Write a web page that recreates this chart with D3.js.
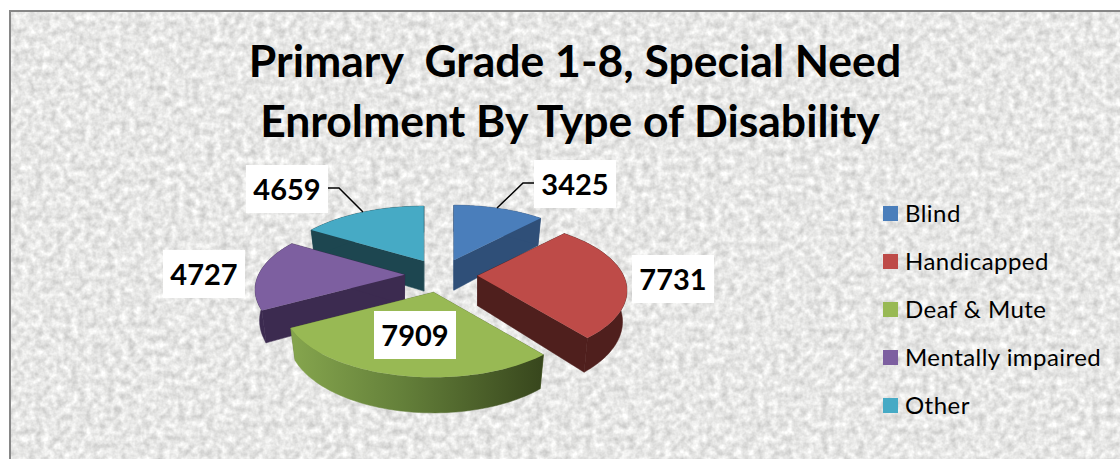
<!DOCTYPE html>
<html>
<head>
<meta charset="utf-8">
<script src="https://d3js.org/d3.v7.min.js"></script>
<style>
html, body { margin: 0; padding: 0; background: #fff; overflow: hidden; }
text { font-family: Lato, sans-serif; fill: #000; }
</style>
</head>
<body>
<div id="plot"></div>
<script>
const categories = ["Blind", "Handicapped", "Deaf & Mute", "Mentally impaired", "Other"];
const enrolment = [3425, 7731, 7909, 4727, 4659];
const titleLines = ["Primary  Grade 1-8, Special Need", "Enrolment By Type of Disability"];

const topColors = ["#4a7ebb", "#be4b48", "#98b954", "#7d5fa0", "#46aac5"];
const sideColors = ["#2f4f78", "#4f1f1d", "#5f7535", "#3c2b50", "#1d4650"];

// label boxes, left/top corner in px (width and height are shared)
const labelBoxes = [[534, 160], [632, 255], [374, 311], [163, 250], [246, 165]];

const width = 1120;
const height = 459;

const svg = d3.select("#plot").append("svg")
    .attr("width", width)
    .attr("height", height)
    .style("display", "block");

const defs = svg.append("defs");

// paper texture
const texture = defs.append("filter")
    .attr("id", "paper")
    .attr("color-interpolation-filters", "sRGB")
    .attr("x", 0).attr("y", 0).attr("width", "100%").attr("height", "100%");
texture.append("feTurbulence")
    .attr("type", "fractalNoise")
    .attr("baseFrequency", 0.14)
    .attr("numOctaves", 3)
    .attr("seed", 7)
    .attr("result", "noise");
texture.append("feColorMatrix")
    .attr("in", "noise")
    .attr("type", "matrix")
    .attr("values", "0 0 0 0.3 0.755  0 0 0 0.3 0.755  0 0 0 0.3 0.75  0 0 0 0 1");

svg.append("rect")
    .attr("x", 10).attr("y", 11)
    .attr("width", width - 10).attr("height", height)
    .attr("filter", "url(#paper)");
svg.append("rect")
    .attr("x", 10).attr("y", 11)
    .attr("width", width + 10).attr("height", height + 10)
    .attr("fill", "none")
    .attr("stroke", "#868686")
    .attr("stroke-width", 2);

// title
svg.selectAll(".title")
    .data(titleLines)
    .enter()
    .append("text")
    .attr("class", "title")
    .attr("x", (d, i) => i === 0 ? 575 : 570)
    .attr("y", (d, i) => 77 + i * 60)
    .attr("text-anchor", "middle")
    .attr("font-size", 44.5)
    .attr("font-weight", 700)
    .style("white-space", "pre")
    .text(d => d);

// pie, seen from above with some perspective
const rx = 146, ky = 66.8, persp = 0.214, depth = 30, explode = 0.25;
const cx = 441, cy = 275;

const pie = d3.pie().sort(null)(enrolment);

function project(u, v) {
    const s = 1 / (1 - persp * v);
    return [u * rx * s, v * ky * s, s];
}

// point on the slice: angle a from 12 o'clock, r from 0 to 1, low = on bottom side
function slicePoint(apex, a, r, low) {
    const p = project(Math.sin(a) * r, -Math.cos(a) * r);
    const shrink = low ? 0.97 : 1;
    return [apex[0] + p[0] * shrink, apex[1] + p[1] * shrink + (low ? depth * p[2] : 0)];
}

const line = d3.line();
const chart = svg.append("g");

const slices = pie.map((d, i) => {
    const mid = (d.startAngle + d.endAngle) / 2;
    const off = project(Math.sin(mid) * explode, -Math.cos(mid) * explode);
    const apex = [cx + off[0], cy + off[1]];
    const angles = d3.range(0, 61).map(k => d.startAngle + (d.endAngle - d.startAngle) * k / 60);
    return {i, d, apex, angles};
});

// green side carries a left to right shade
const shade = defs.append("linearGradient")
    .attr("id", "greenSide")
    .attr("gradientUnits", "userSpaceOnUse")
    .attr("x1", 289).attr("x2", 541).attr("y1", 0).attr("y2", 0);
shade.append("stop").attr("offset", 0).attr("stop-color", "#86a64e");
shade.append("stop").attr("offset", 0.45).attr("stop-color", "#64803a");
shade.append("stop").attr("offset", 1).attr("stop-color", "#38471d");

// back to front
[4, 0, 3, 1, 2].forEach(i => {
    const sl = slices[i];
    const g = chart.append("g");
    const side = i === 2 ? "url(#greenSide)" : sideColors[i];
    [sl.d.startAngle, sl.d.endAngle].forEach(a => {
        g.append("path")
            .attr("d", line([
                slicePoint(sl.apex, a, 0, false),
                slicePoint(sl.apex, a, 1, false),
                slicePoint(sl.apex, a, 1, true),
                slicePoint(sl.apex, a, 0, true)
            ]) + "Z")
            .attr("fill", sideColors[i])
            .attr("stroke", sideColors[i])
            .attr("stroke-width", 0.5);
    });
    const upper = sl.angles.map(a => slicePoint(sl.apex, a, 1, false));
    const lower = sl.angles.map(a => slicePoint(sl.apex, a, 1, true)).reverse();
    g.append("path")
        .attr("d", line(upper.concat(lower)) + "Z")
        .attr("fill", side)
        .attr("stroke", side)
        .attr("stroke-width", 0.5);
    g.append("path")
        .attr("d", line([sl.apex].concat(upper)) + "Z")
        .attr("fill", topColors[i]);
});

// leader lines
const leaderLine = d3.line();
svg.append("path")
    .attr("d", leaderLine([[534, 183], [523, 183], [497, 208]]))
    .attr("fill", "none").attr("stroke", "#000").attr("stroke-width", 1.5);
svg.append("path")
    .attr("d", leaderLine([[328, 188], [339, 188], [363, 212]]))
    .attr("fill", "none").attr("stroke", "#000").attr("stroke-width", 1.5);

// value labels
const labels = svg.selectAll(".label")
    .data(enrolment)
    .enter()
    .append("g")
    .attr("class", "label")
    .attr("transform", (d, i) => `translate(${labelBoxes[i][0]},${labelBoxes[i][1]})`);
labels.append("rect")
    .attr("width", 82)
    .attr("height", 48)
    .attr("fill", "#fff");
labels.append("text")
    .attr("x", 41)
    .attr("y", 35)
    .attr("text-anchor", "middle")
    .attr("font-size", 29)
    .attr("font-weight", 700)
    .text(d => d);

// legend
const legend = svg.append("g");
const legendY = d3.scalePoint().domain(categories).range([213.5, 405.5]);
legend.selectAll("rect")
    .data(categories)
    .enter()
    .append("rect")
    .attr("x", 883)
    .attr("y", d => legendY(d) - 7.5)
    .attr("width", 15)
    .attr("height", 15)
    .attr("fill", (d, i) => topColors[i]);
legend.selectAll("text")
    .data(categories)
    .enter()
    .append("text")
    .attr("x", 905)
    .attr("y", d => legendY(d) + 8)
    .attr("font-size", 24)
    .attr("letter-spacing", 0.45)
    .text(d => d);
</script>
</body>
</html>
